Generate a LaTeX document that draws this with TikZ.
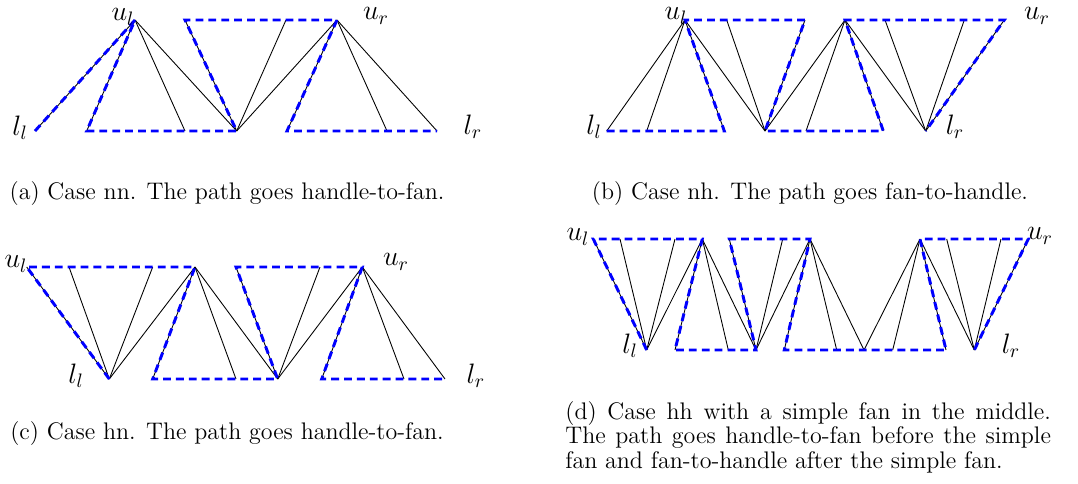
\documentclass[tikz,border=0pt]{standalone}
\usepackage{amsmath,amssymb}
\usepackage{xcolor}
\usepackage{tikz}
\usetikzlibrary{positioning}
\tikzset{
  edg/.style={black, line width=0.45pt},
  pth/.style={blue, line width=1.5pt, dash pattern=on 4pt off 2.6pt},
  vlab/.style={font=\Large, inner sep=0pt},
  capt/.style={font=\fontsize{12.3}{12.75}\selectfont, anchor=base, inner sep=0pt},
}

\begin{document}
\begin{tikzpicture}[x=0.5128pt, y=-0.5128pt]
\useasboundingbox (0,0) rectangle (1078,484);
% (a) case nn
\coordinate (aT1) at (135,20);
\coordinate (aT2) at (185,20);
\coordinate (aT3) at (286,20);
\coordinate (aT4) at (337,20);
\coordinate (aB0) at (35,131);
\coordinate (aB1) at (86.7,131);
\coordinate (aB2) at (185,131);
\coordinate (aB3) at (236.7,131);
\coordinate (aB4) at (287,131);
\coordinate (aB5) at (387,131);
\coordinate (aB6) at (437,131);
\foreach \v in {aB0,aB1,aB2,aB3} \draw[edg] (aT1) -- (\v);
\foreach \v in {aT2,aT3,aT4} \draw[edg] (aB3) -- (\v);
\foreach \v in {aB4,aB5,aB6} \draw[edg] (aT4) -- (\v);
\draw[pth] (aB0) -- (aT1) -- (aB1) -- (aB3) -- (aT2) -- (aT4) -- (aB4) -- (aB6);
\node[vlab] (aul) at (123,17) {$u_l$};
\node[vlab] (aur) at (376,16) {$u_r$};
\node[vlab] (all) at (20,128) {$l_l$};
\node[vlab] (alr) at (473,127) {$l_r$};
\node[capt] (capa) at (227,199) {(a) Case nn. The path goes handle-to-fan.};
% (b) case nh
\coordinate (bT1) at (685,20);
\coordinate (bT2) at (726.7,20);
\coordinate (bT3) at (805,20);
\coordinate (bT4) at (845,20);
\coordinate (bT5) at (885,20);
\coordinate (bT6) at (964.3,20);
\coordinate (bT7) at (1004.3,20);
\coordinate (bB1) at (606.7,131);
\coordinate (bB2) at (646.7,131);
\coordinate (bB3) at (724.3,131);
\coordinate (bB4) at (765,131);
\coordinate (bB5) at (806,131);
\coordinate (bB6) at (883.3,131);
\coordinate (bB7) at (925.7,131);
\foreach \v in {bB1,bB2,bB3,bB4} \draw[edg] (bT1) -- (\v);
\foreach \v in {bT2,bT3,bT4} \draw[edg] (bB4) -- (\v);
\foreach \v in {bB5,bB6,bB7} \draw[edg] (bT4) -- (\v);
\foreach \v in {bT5,bT6,bT7} \draw[edg] (bB7) -- (\v);
\draw[pth] (bB1) -- (bB3) -- (bT1) -- (bT3) -- (bB4) -- (bB6) -- (bT4) -- (bT7) -- (bB7);
\node[vlab] (bul) at (676,16) {$u_l$};
\node[vlab] (bur) at (1037,16) {$u_r$};
\node[vlab] (bll) at (594,127) {$l_l$};
\node[vlab] (blr) at (955,127) {$l_r$};
\node[capt] (capb) at (810,199) {(b) Case nh. The path goes fan-to-handle.};
% (c) case hn
\coordinate (cT1) at (26.7,267);
\coordinate (cT2) at (69,267);
\coordinate (cT3) at (152.7,267);
\coordinate (cT4) at (195,267);
\coordinate (cT5) at (236,267);
\coordinate (cT6) at (320,267);
\coordinate (cT7) at (362.3,267);
\coordinate (cB1) at (109.3,379);
\coordinate (cB2) at (152.7,379);
\coordinate (cB3) at (236,379);
\coordinate (cB4) at (277.7,379);
\coordinate (cB5) at (321.7,379);
\coordinate (cB6) at (404,379);
\coordinate (cB7) at (445,379);
\foreach \v in {cT1,cT2,cT3,cT4} \draw[edg] (cB1) -- (\v);
\foreach \v in {cB2,cB3,cB4} \draw[edg] (cT4) -- (\v);
\foreach \v in {cT5,cT6,cT7} \draw[edg] (cB4) -- (\v);
\foreach \v in {cB5,cB6,cB7} \draw[edg] (cT7) -- (\v);
\draw[pth] (cB1) -- (cT1) -- (cT4) -- (cB2) -- (cB4) -- (cT5) -- (cT7) -- (cB5) -- (cB7);
\node[vlab] (cul) at (16,264) {$u_l$};
\node[vlab] (cur) at (396,262) {$u_r$};
\node[vlab] (cll) at (76,376) {$l_l$};
\node[vlab] (clr) at (476,376) {$l_r$};
\node[capt] (capc) at (227,439) {(c) Case hn. The path goes handle-to-fan.};
% (d) case hh, simple fan in the middle
\coordinate (dT1) at (593.3,239);
\coordinate (dT2) at (620,239);
\coordinate (dT3) at (675,239);
\coordinate (dT4) at (702.3,239);
\coordinate (dT5) at (729.3,239);
\coordinate (dT6) at (782.7,239);
\coordinate (dT7) at (810,239);
\coordinate (dT8) at (920,239);
\coordinate (dT9) at (946.7,239);
\coordinate (dT10) at (1001,239);
\coordinate (dT11) at (1028.3,239);
\coordinate (dB1) at (646.7,350);
\coordinate (dB2) at (675,350);
\coordinate (dB3) at (728.3,350);
\coordinate (dB4) at (756,350);
\coordinate (dB5) at (784.3,350);
\coordinate (dB6) at (836.7,350);
\coordinate (dB7) at (864,350);
\coordinate (dB8) at (892.7,350);
\coordinate (dB9) at (946,350);
\coordinate (dB10) at (974.3,350);
\foreach \v in {dT1,dT2,dT3,dT4} \draw[edg] (dB1) -- (\v);
\foreach \v in {dB2,dB3,dB4} \draw[edg] (dT4) -- (\v);
\foreach \v in {dT5,dT6,dT7} \draw[edg] (dB4) -- (\v);
\foreach \v in {dB5,dB6,dB7} \draw[edg] (dT7) -- (\v);
\foreach \v in {dB7,dB8,dB9,dB10} \draw[edg] (dT8) -- (\v);
\foreach \v in {dT9,dT10,dT11} \draw[edg] (dB10) -- (\v);
\draw[pth] (dB1) -- (dT1) -- (dT4) -- (dB2) -- (dB4) -- (dT5) -- (dT7) -- (dB5)
  -- (dB9) -- (dT8) -- (dT11) -- (dB10);
\node[vlab] (dul) at (578,237) {$u_l$};
\node[vlab] (dur) at (1040,236) {$u_r$};
\node[vlab] (dll) at (630,346) {$l_l$};
\node[vlab] (dlr) at (1011,346) {$l_r$};
\node[capt, anchor=base west, text width=249pt, align=justify] (capd) at (565,419)
  {(d) Case hh with a simple fan in the middle. The path goes handle-to-fan before the simple fan and fan-to-handle after the simple fan.};
\end{tikzpicture}
\end{document}
